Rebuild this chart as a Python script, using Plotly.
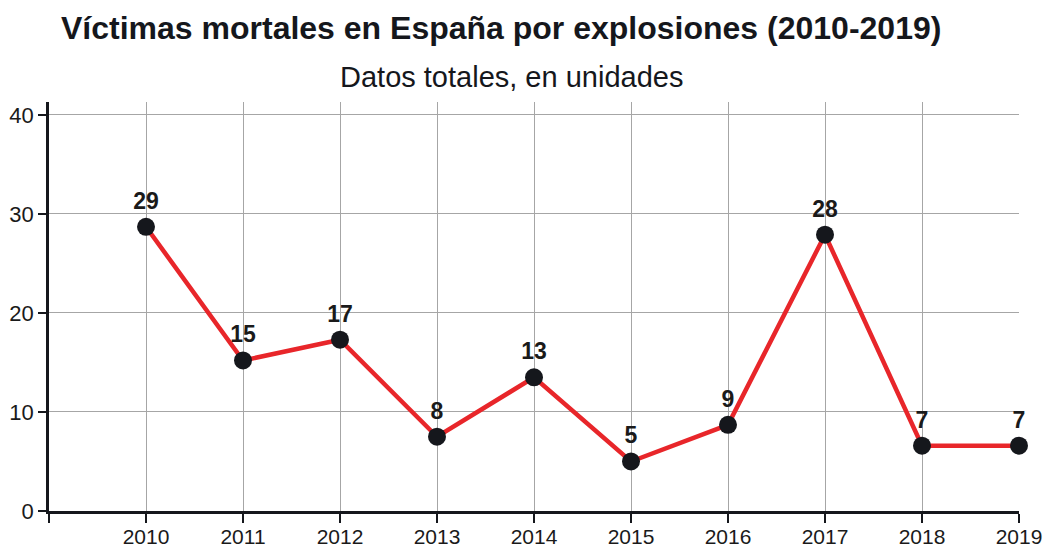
import plotly.graph_objects as go

years = [2010, 2011, 2012, 2013, 2014, 2015, 2016, 2017, 2018, 2019]
victims = [28.7, 15.2, 17.3, 7.5, 13.5, 5.0, 8.7, 27.9, 6.6, 6.6]
labels = ["29", "15", "17", "8", "13", "5", "9", "28", "7", "7"]
y_ticks = [0, 10, 20, 30, 40]

title = "Víctimas mortales en España por explosiones (2010-2019)"
subtitle = "Datos totales, en unidades"

FONT = "Liberation Sans, Arial, sans-serif"
# plot area in page pixels: left 49, top 102, right 1019, bottom 511
PH = 511 - 102
PW = 1019 - 49


def py(px):
    return 1 + (102 - px) / PH


def pxx(px):
    return (px - 49) / PW


fig = go.Figure()
fig.add_trace(go.Scatter(
    x=years, y=victims, mode="lines+markers+text",
    text=labels, textposition="top center",
    textfont=dict(family=FONT, size=23, color="#1a1a1a", weight="bold"),
    line=dict(color="#e8262a", width=4.5),
    marker=dict(color="#15171c", size=18),
    cliponaxis=False,
    showlegend=False,
))

fig.update_layout(
    width=1048, height=548,
    margin=dict(l=49, r=29, t=102, b=37, autoexpand=False),
    paper_bgcolor="white", plot_bgcolor="white",
    font=dict(family=FONT, color="#1a1a1a"),
    annotations=[
        dict(text="<b>" + title + "</b>", xref="paper", yref="paper",
             x=pxx(501), y=py(28),
             xanchor="center", yanchor="middle", showarrow=False,
             font=dict(size=32, color="#15171c")),
        dict(text=subtitle, xref="paper", yref="paper",
             x=pxx(511), y=py(77),
             xanchor="center", yanchor="middle", showarrow=False,
             font=dict(size=29, color="#15171c")),
    ],
)
fig.update_xaxes(
    range=[2009, 2019], tickvals=[2009] + years, ticktext=[""] + [str(y) for y in years],
    showgrid=True, gridcolor="#a6a6a6", gridwidth=1.3,
    showline=True, linecolor="#15171c", linewidth=2.5,
    ticks="outside", ticklen=9, tickwidth=2, tickcolor="#15171c",
    ticklabelstandoff=-4,
    tickfont=dict(size=21, color="#1a1a1a"), zeroline=False, automargin=False,
)
fig.update_yaxes(
    range=[0, 41.3], tickvals=y_ticks,
    showgrid=True, gridcolor="#a6a6a6", gridwidth=1.3,
    showline=True, linecolor="#15171c", linewidth=2.5,
    ticks="outside", ticklen=8, tickwidth=2, tickcolor="#15171c",
    tickfont=dict(size=22, color="#1a1a1a"), zeroline=False, automargin=False,
)

fig.write_html(
    "out.html",
    config={"displayModeBar": False},
    post_script="document.body.style.margin='0';document.body.style.overflow='hidden';",
)
